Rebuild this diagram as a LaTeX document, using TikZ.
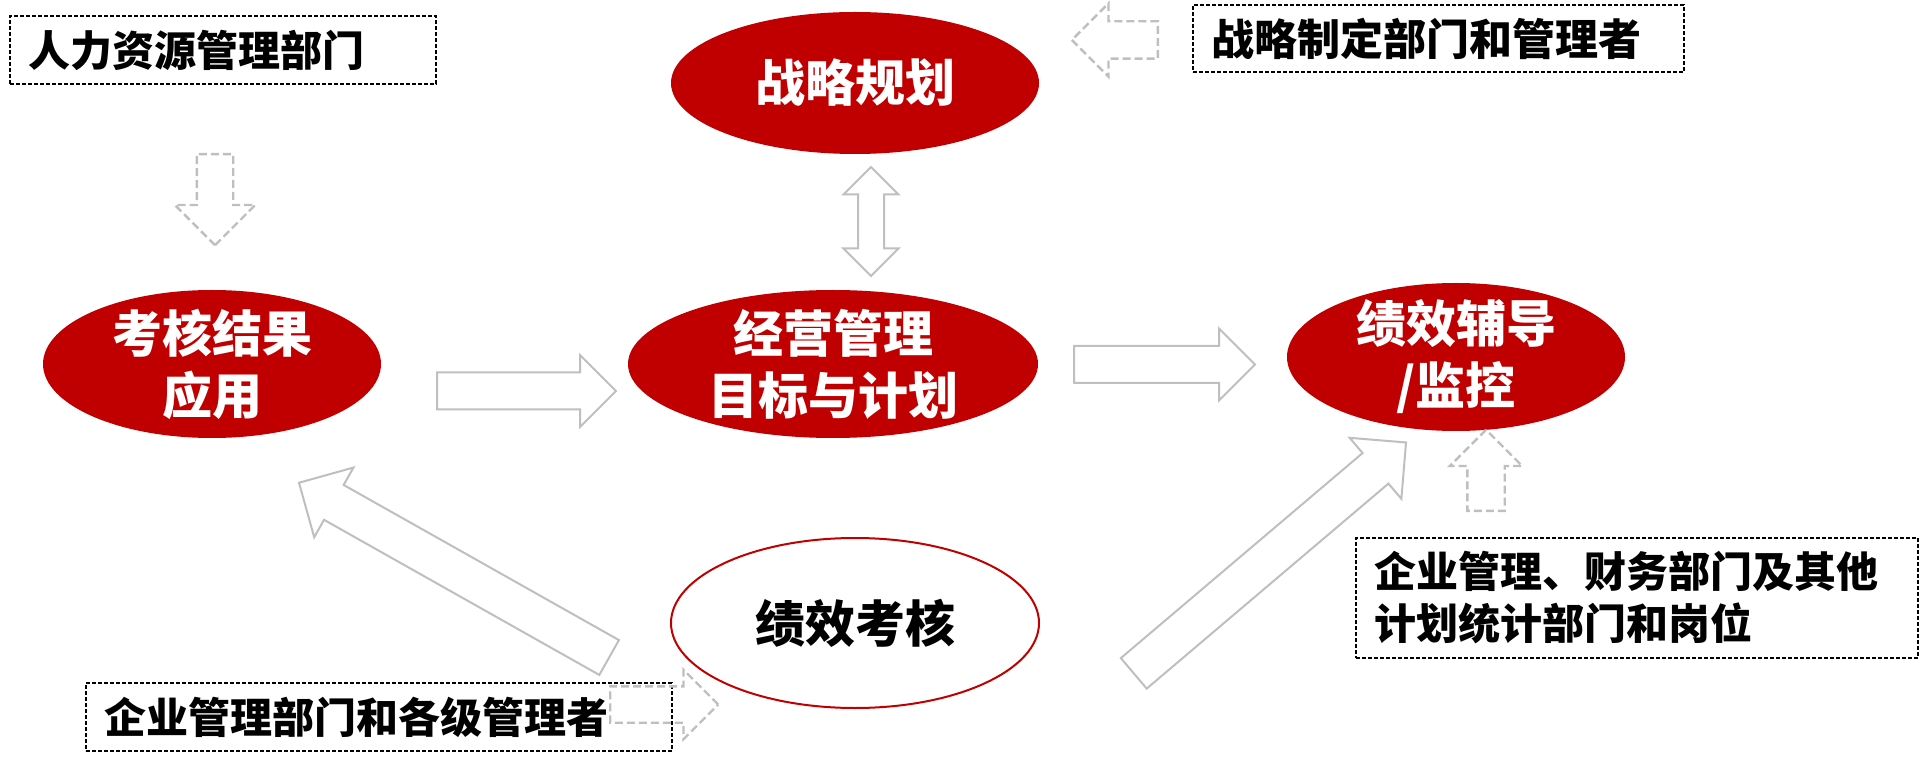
\documentclass[tikz,border=0pt]{standalone}
\usepackage{fontspec}
\newfontfamily\cjkfont{Noto Sans CJK SC}
\usetikzlibrary{shapes.geometric,shapes.arrows}
\definecolor{deepred}{HTML}{C00000}
\definecolor{flowgray}{HTML}{BFBFBF}

\begin{document}
\begin{tikzpicture}
    [
        x=1pt, y=-1pt,
        goal/.style={ellipse, fill=deepred, text=white, inner sep=-6pt, align=center,
            font=\cjkfont\bfseries\fontsize{25}{31}\selectfont},
        review/.style={ellipse, draw=deepred, line width=1pt, fill=white, inner sep=-6pt,
            font=\cjkfont\bfseries\fontsize{25}{31}\selectfont},
        owner/.style={draw, dash pattern=on 2pt off 1pt, line width=0.6pt, align=left,
            inner xsep=9pt, inner ysep=0pt, font=\cjkfont\bfseries\fontsize{21}{26}\selectfont},
        flow/.style 2 args={single arrow, anchor=tail, draw=flowgray, line width=1pt, fill=white,
            inner xsep=0pt, inner ysep=#1, single arrow head extend=#2},
        link/.style 2 args={double arrow, draw=flowgray, line width=1pt, fill=white,
            inner xsep=0pt, inner ysep=#1, double arrow head extend=#2},
        hint/.style 2 args={single arrow, anchor=tail, draw=flowgray, line width=1.2pt,
            dash pattern=on 4pt off 2pt, inner xsep=0pt, inner ysep=#1, single arrow head extend=#2},
    ]

    \useasboundingbox (0,0) rectangle (960,384.5);

    % goals
    \node (plan)   at (427.5,41.5)  [goal, minimum width=184pt, minimum height=71pt] {战略规划};
    \node (apply)  at (106,182)     [goal, minimum width=169pt, minimum height=74pt] {考核结果\\应用};
    \node (target) at (416.5,182)   [goal, minimum width=205pt, minimum height=74pt] {经营管理\\目标与计划};
    \node (coach)  at (728,178.5)   [goal, minimum width=169pt, minimum height=74pt] {绩效辅导\\/监控};
    \node (review) at (427.5,311.5) [review, minimum width=184pt, minimum height=85pt] {绩效考核};

    % owners
    \node (hr)    at (111.5,25)     [owner, text width=195pt, minimum height=34pt] {人力资源管理部门};
    \node (strat) at (719.25,19.25) [owner, text width=227.5pt, minimum height=33.5pt,
        font=\cjkfont\bfseries\fontsize{21.5}{26}\selectfont] {战略制定部门和管理者};
    \node (mgr)   at (189.5,358.5)  [owner, text width=275pt, minimum height=34pt] {企业管理部门和各级管理者};
    \node (fin)   at (818.5,299)    [owner, text width=263pt, minimum height=60pt] {企业管理、财务部门及其他\\计划统计部门和岗位};

    % flows, placed by their tails
    \node (f1) at (218,195.5)    [flow={8.75pt}{8.75pt}, minimum height=89.5pt] {};
    \node (f2) at (536.5,182.25) [flow={8.75pt}{8.75pt}, minimum height=90.5pt] {};
    \node (f3) at (435.5,110.75) [link={6pt}{7.25pt}, minimum height=54.5pt, rotate=90] {};
    \node (f4) at (305,329)      [flow={9.5pt}{10pt}, minimum height=178pt, rotate=150.6] {};
    \node (f5) at (566.5,337)    [flow={9.5pt}{10pt}, minimum height=178.5pt, rotate=40.3] {};

    % hints
    \node (h1) at (107.5,76.5)   [hint={8.5pt}{11pt}, minimum height=45.5pt, rotate=-90] {};
    \node (h2) at (579.5,20)     [hint={8.75pt}{9pt}, minimum height=43pt, rotate=180] {};
    \node (h3) at (743,256)      [hint={8.75pt}{8.75pt}, minimum height=40.5pt, rotate=90] {};
    \node (h4) at (304.5,352.25) [hint={8.5pt}{8.25pt}, minimum height=54pt] {};

\end{tikzpicture}
\end{document}
